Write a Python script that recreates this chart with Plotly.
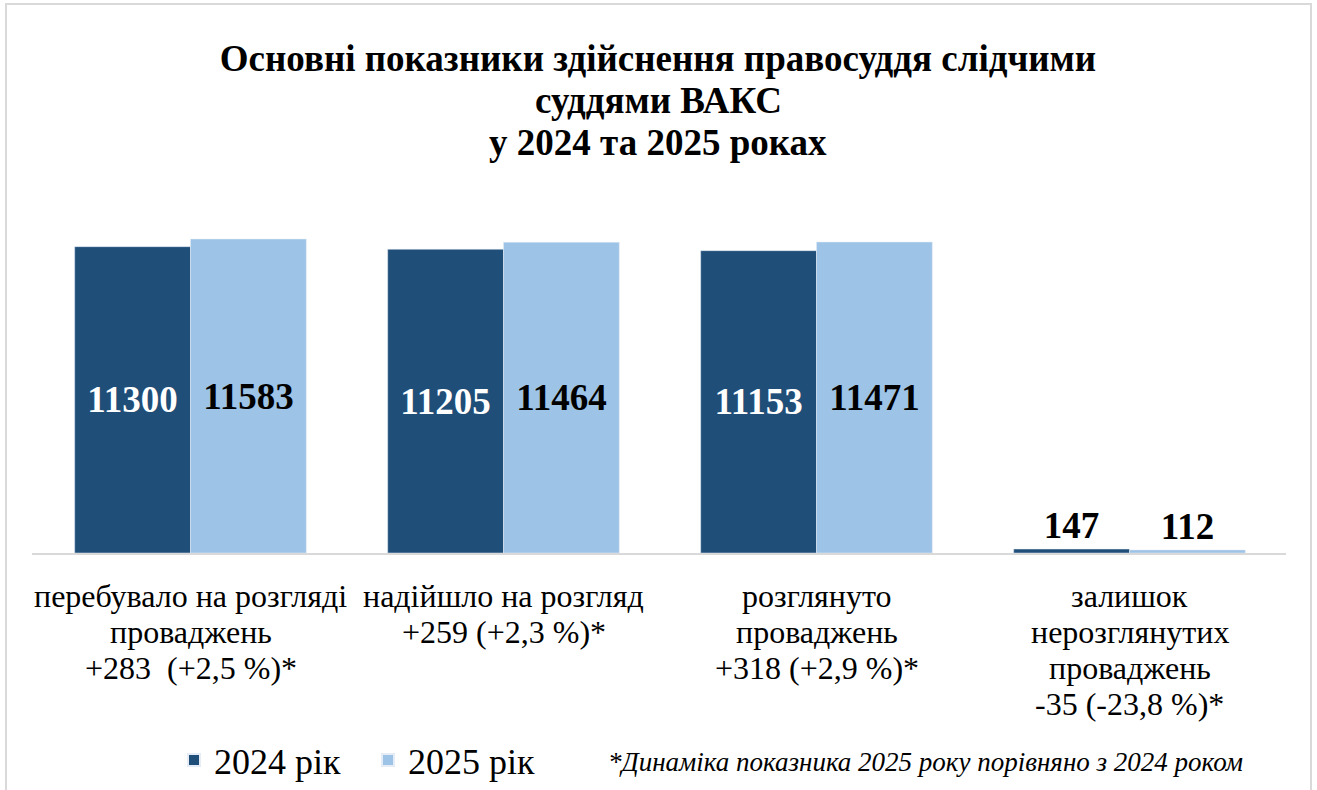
import plotly.graph_objects as go

categories = ["перебувало на розгляді", "надійшло на розгляд", "розглянуто", "залишок"]
values_2024 = [11300, 11205, 11153, 147]
values_2025 = [11583, 11464, 11471, 112]
series_names = ["2024 рік", "2025 рік"]
category_lines = [
    ["перебувало на розгляді", "проваджень", "+283\u00a0\u00a0(+2,5 %)*"],
    ["надійшло на розгляд", "+259 (+2,3 %)*"],
    ["розглянуто", "проваджень", "+318 (+2,9 %)*"],
    ["залишок", "нерозглянутих", "проваджень", "-35 (-23,8 %)*"],
]
title_lines = ["Основні показники здійснення правосуддя слідчими", "суддями ВАКС", "у 2024 та 2025 роках"]
footnote = "*Динаміка показника 2025 року порівняно з 2024 роком"

DARK = "#1f4e79"
LIGHT = "#9dc3e6"
FONT = "Liberation Serif"
W, H = 1317, 790
ML, MR, MT, MB = 32, 31, 200, 237
plot_w = W - ML - MR
plot_h = H - MT - MB
ymax = max(values_2025) * plot_h / 314.0


def px_x(px):
    return (px - ML) / plot_w


def px_y(py):
    return (H - MB - py) / plot_h


def positions(vals):
    return ["inside" if v > 1000 else "outside" for v in vals]


fig = go.Figure()
fig.add_trace(go.Bar(
    x=categories, y=values_2024, name=series_names[0], marker_color=DARK,
    text=[str(v) for v in values_2024], textposition=positions(values_2024),
    insidetextanchor="middle",
    insidetextfont=dict(family=FONT, size=37, color="white", weight="bold"),
    outsidetextfont=dict(family=FONT, size=37, color="black", weight="bold"),
    cliponaxis=False, constraintext="none",
))
fig.add_trace(go.Bar(
    x=categories, y=values_2025, name=series_names[1], marker_color=LIGHT,
    text=[str(v) for v in values_2025], textposition=positions(values_2025),
    insidetextanchor="middle",
    insidetextfont=dict(family=FONT, size=37, color="black", weight="bold"),
    outsidetextfont=dict(family=FONT, size=37, color="black", weight="bold"),
    cliponaxis=False, constraintext="none",
))

annotations = []
for cat, lines in zip(categories, category_lines):
    for i, line in enumerate(lines):
        annotations.append(dict(
            x=cat, xref="x", y=0, yref="paper", yanchor="middle",
            yshift=-(43 + 36 * i), text=line, showarrow=False,
            font=dict(family=FONT, size=32, color="black"),
        ))
for line, ty in zip(title_lines[1:], [100, 142]):
    annotations.append(dict(
        x=px_x(658), xref="paper", xanchor="center", y=px_y(ty), yref="paper",
        yanchor="middle", text=line, showarrow=False,
        font=dict(family=FONT, size=37, color="black", weight="bold"),
    ))
annotations.append(dict(
    x=px_x(926), xref="paper", xanchor="center", y=px_y(762), yref="paper",
    yanchor="middle", text=footnote, showarrow=False,
    font=dict(family=FONT, size=27, color="black", style="italic"),
))

fig.update_layout(
    width=W, height=H,
    margin=dict(l=ML, r=MR, t=MT, b=MB, pad=0, autoexpand=False),
    paper_bgcolor="white", plot_bgcolor="white",
    barmode="group", bargap=0.26, bargroupgap=0,
    title=dict(
        text=title_lines[0], x=658 / W, xanchor="center",
        y=1 - 58 / H, yanchor="middle", yref="container",
        font=dict(family=FONT, size=37, color="black", weight="bold"),
    ),
    xaxis=dict(showticklabels=False, showline=True, linecolor="#d9d9d9", linewidth=2,
               ticks="", showgrid=False, zeroline=False, fixedrange=True),
    yaxis=dict(range=[0, ymax], visible=False, showgrid=False, zeroline=False),
    showlegend=True,
    legend=dict(orientation="h", x=px_x(174), xanchor="left",
                y=px_y(760), yanchor="middle",
                font=dict(family=FONT, size=36, color="black"),
                entrywidth=149, itemsizing="constant", traceorder="normal"),
    annotations=annotations,
    shapes=[dict(type="rect", xref="paper", yref="paper",
                 x0=px_x(6), x1=px_x(1311),
                 y0=px_y(800), y1=px_y(4),
                 line=dict(color="#d9d9d9", width=2), fillcolor="rgba(0,0,0,0)", layer="below")],
)

fig.write_html("out.html")
